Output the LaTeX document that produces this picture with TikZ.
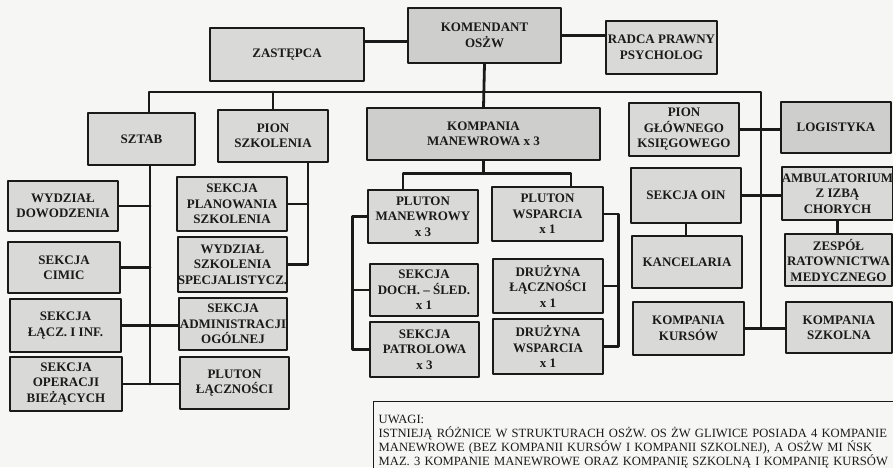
\documentclass[tikz,border=0pt]{standalone}
\usepackage{fontspec}
\setmainfont{Liberation Serif}
\usetikzlibrary{calc}
\definecolor{odzPaper}{HTML}{F6F6F4}
\definecolor{odzBox}{HTML}{D9D9D7}
\definecolor{odzBoxDark}{HTML}{CECECC}
\definecolor{odzInk}{HTML}{1A1A1A}

\begin{document}
\begin{tikzpicture}[x=1pt,y=-1pt,line cap=round,line join=round]
\useasboundingbox[fill=odzPaper] (0,0) rectangle (893,467);
\tikzset{wire/.style={draw=odzInk,line width=2.8pt},box/.style={draw=odzInk,fill=odzBox,line width=1.5pt,align=center,inner sep=0pt,text=odzInk,font=\fontsize{13}{15.5}\selectfont\bfseries},dark/.style={box,fill=odzBoxDark},note/.style={draw=odzInk,fill=odzPaper,line width=1.4pt,align=left,inner sep=5pt,text=odzInk,font=\fontsize{12.6}{14}\selectfont}}
% top level
\node[box,minimum width=154pt,minimum height=53pt] (zast) at (287,54.5) {ZASTĘPCA};
\node[dark,minimum width=153pt,minimum height=55pt] (kom) at (484.5,35.5) {KOMENDANT\\OSŻW};
\node[box,minimum width=111pt,minimum height=53pt] (radca) at (661.5,47.5) {RADCA PRAWNY\\PSYCHOLOG};
% second level
\node[box,minimum width=107pt,minimum height=52pt] (sztab) at (141.5,139) {SZTAB};
\node[box,minimum width=110pt,minimum height=52pt] (pszk) at (273,136) {PION\\SZKOLENIA};
\node[dark,minimum width=233pt,minimum height=52pt] (kmp) at (483.5,134) {KOMPANIA\\MANEWROWA x 3};
\node[box,minimum width=110pt,minimum height=53pt] (pgk) at (684,129.5) {PION\\GŁÓWNEGO\\KSIĘGOWEGO};
\node[dark,minimum width=110pt,minimum height=51pt] (log) at (836,127.5) {LOGISTYKA};
% sztab
\node[box,minimum width=110pt,minimum height=50pt] (wdow) at (63,206) {WYDZIAŁ\\DOWODZENIA};
\node[box,minimum width=112pt,minimum height=51pt] (cimic) at (64,267.5) {SEKCJA\\CIMIC};
\node[box,minimum width=111pt,minimum height=53pt] (lacz) at (65.5,325.5) {SEKCJA\\ŁĄCZ. I INF.};
\node[box,minimum width=112pt,minimum height=54pt] (oper) at (66,384) {SEKCJA\\OPERACJI\\BIEŻĄCYCH};
\node[box,minimum width=108pt,minimum height=52pt] (adm) at (233,324) {SEKCJA\\ADMINISTRACJI\\OGÓLNEJ};
\node[box,minimum width=109pt,minimum height=52pt] (plac) at (234.5,383) {PLUTON\\ŁĄCZNOŚCI};
% pion szkolenia
\node[box,minimum width=110pt,minimum height=54pt] (plan) at (232,204) {SEKCJA\\PLANOWANIA\\SZKOLENIA};
\node[box,minimum width=109pt,minimum height=55pt] (wszs) at (232.5,264.5) {WYDZIAŁ\\SZKOLENIA\\SPECJALISTYCZ.};
% kompania manewrowa
\node[box,minimum width=110pt,minimum height=53pt] (pman) at (423,216.5) {PLUTON\\MANEWROWY\\x 3};
\node[box,minimum width=111pt,minimum height=54pt] (pwsp) at (547.5,214) {PLUTON\\WSPARCIA\\x 1};
\node[box,minimum width=108pt,minimum height=52pt] (sdoch) at (424,290) {SEKCJA\\DOCH. – ŚLED.\\x 1};
\node[box,minimum width=109pt,minimum height=55pt] (spatr) at (424.5,349.5) {SEKCJA\\PATROLOWA\\x 3};
\node[box,minimum width=110pt,minimum height=54pt] (dlacz) at (548,286) {DRUŻYNA\\ŁĄCZNOŚCI\\x 1};
\node[box,minimum width=110pt,minimum height=55pt] (dwsp) at (548,346.5) {DRUŻYNA\\WSPARCIA\\x 1};
% right side
\node[box,minimum width=110pt,minimum height=55pt] (oin) at (686,195.5) {SEKCJA OIN};
\node[box,minimum width=110pt,minimum height=52pt] (kanc) at (687,262) {KANCELARIA};
\node[box,minimum width=111pt,minimum height=53pt] (kkurs) at (688.5,328.5) {KOMPANIA\\KURSÓW};
\node[box,minimum width=109pt,minimum height=53pt] (amb) at (837.5,193.5) {AMBULATORIUM\\Z IZBĄ\\CHORYCH};
\node[box,minimum width=107pt,minimum height=52pt] (zesp) at (838.5,260) {ZESPÓŁ\\RATOWNICTWA\\MEDYCZNEGO};
\node[box,minimum width=106pt,minimum height=51pt] (kszk) at (839,327.5) {KOMPANIA\\SZKOLNA};
% uwagi
\node[note,anchor=north west,text width=530pt,minimum height=80pt] (uwagi) at (373,401) {UWAGI:\\ISTNIEJĄ RÓŻNICE W STRUKTURACH OSŻW. OS ŻW GLIWICE POSIADA 4 KOMPANIE\\MANEWROWE (BEZ KOMPANII KURSÓW I KOMPANII SZKOLNEJ), A OSŻW MI ŃSK\\MAZ. 3 KOMPANIE MANEWROWE ORAZ KOMPANIĘ SZKOLNĄ I KOMPANIĘ KURSÓW};
% connectors
\coordinate (spine) at (761,92);
\draw[wire] ([yshift=-6pt]kom.west) -- ([yshift=-6pt]kom.west -| zast.east);
\draw[wire] (kom.east) -- (kom.east -| radca.west);
\draw[wire] (kom.south) -- (kmp.north);
\draw[wire] ([xshift=7.5pt]sztab.north) |- (spine) -- (spine |- kkurs.east);
\draw[wire] (pszk.north) -- (pszk.north |- spine);
\draw[wire] (pgk.east) -- (pgk.east -| log.west);
\draw[wire] (oin.east) -- (oin.east -| amb.west);
\draw[wire] (kkurs.east) -- (kkurs.east -| kszk.west);
\draw[wire] (oin.south) -- (oin.south |- kanc.north);
\draw[wire] (amb.south) -- (amb.south |- zesp.north);
\coordinate (sz) at ([xshift=8.5pt]sztab.south);
\draw[wire] (sz) -- (sz |- oper.east);
\draw[wire] (wdow.east) -- (wdow.east -| sz);
\draw[wire] (cimic.east) -- (cimic.east -| sz);
\draw[wire] (lacz.east) -- (lacz.east -| adm.west);
\draw[wire] (oper.east) -- (oper.east -| plac.west);
\coordinate (ps) at ([xshift=35pt]pszk.south);
\draw[wire] (ps) |- (wszs.east);
\draw[wire] (plan.east) -- (plan.east -| ps);
\draw[wire] (kmp.south) -- ++(0,13) coordinate (kj);
\draw[wire] ([xshift=-20pt]pman.north) |- (kj) -| ([xshift=23.5pt]pwsp.north);
\draw[wire] (pman.west) -- ++(-15,0) coordinate (pl) -- (pl |- spatr.west) -- (spatr.west);
\draw[wire] (sdoch.west) -- (sdoch.west -| pl);
\draw[wire] (pwsp.east) -- ++(15,0) coordinate (pr) -- (pr |- dwsp.east) -- (dwsp.east);
\draw[wire] (dlacz.east) -- (dlacz.east -| pr);
\end{tikzpicture}
\end{document}
